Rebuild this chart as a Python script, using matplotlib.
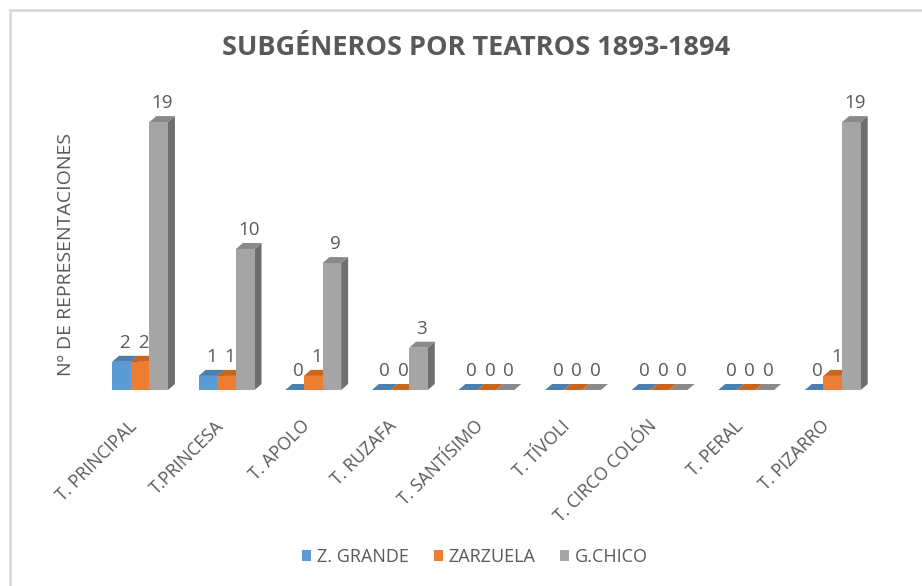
import matplotlib
matplotlib.use("Agg")
import matplotlib.pyplot as plt
from matplotlib.patches import Polygon, Rectangle, Patch
from matplotlib.transforms import ScaledTranslation
import numpy as np

categories = ["T. PRINCIPAL", "T.PRINCESA", "T. APOLO", "T. RUZAFA", "T. SANTÍSIMO",
              "T. TÍVOLI", "T. CIRCO COLÓN", "T. PERAL", "T. PIZARRO"]
z_grande = [2, 1, 0, 0, 0, 0, 0, 0, 0]
zarzuela = [2, 1, 1, 0, 0, 0, 0, 0, 1]
g_chico = [19, 10, 9, 3, 0, 0, 0, 0, 19]
series_names = ["Z. GRANDE", "ZARZUELA", "G.CHICO"]

front = ["#5B9BD5", "#ED7D31", "#A5A5A5"]
top_c = ["#4A7FB0", "#C8651F", "#8A8A8A"]
side_c = ["#3F6D97", "#B05818", "#6E6E6E"]
txt = "#595959"

plt.rcParams['font.family'] = ['Open Sans', 'DejaVu Sans']

W, H = 922, 586
fig = plt.figure(figsize=(W / 100, H / 100), dpi=100)
# chart border
fig.patches.append(Rectangle((10 / W, -0.05), 1.2, (H - 10) / H + 0.05,
                             transform=fig.transFigure, fill=False,
                             edgecolor="#D9D9D9", linewidth=2))

ax_l, ax_r, ax_b, ax_t = 100, 880, 390, 108
ax = fig.add_axes([ax_l / W, (H - ax_b) / H, (ax_r - ax_l) / W, (ax_b - ax_t) / H])
px_per_unit_x = 86.6
xl = -(140 - ax_l) / px_per_unit_x
xr = 8 + (ax_r - 832.8) / px_per_unit_x
ax.set_xlim(xl, xr)
ax.set_ylim(0, 20)
ppy = (ax_b - ax_t) / 20.0

bw = 0.215
dx = 7 / px_per_unit_x
dy = 6 / ppy
x = np.arange(len(categories))
data = [z_grande, zarzuela, g_chico]
offsets = [-bw, 0, bw]

for s, vals in enumerate(data):
    ax.bar(x + offsets[s], vals, width=bw, color=front[s], zorder=3 + s, linewidth=0)
    for i, v in enumerate(vals):
        x0 = x[i] + offsets[s] - bw / 2
        x1 = x0 + bw
        ax.add_patch(Polygon([(x0, v), (x1, v), (x1 + dx, v + dy), (x0 + dx, v + dy)],
                             closed=True, facecolor=top_c[s], edgecolor="none",
                             zorder=3 + s))
        ax.add_patch(Polygon([(x1, 0), (x1 + dx, dy), (x1 + dx, v + dy), (x1, v)],
                             closed=True, facecolor=side_c[s], edgecolor="none",
                             zorder=2.9 + s))
        ax.annotate(str(v), (x0 + bw / 2 + dx / 2, v + dy), xytext=(0, 3),
                    textcoords="offset points", ha="center", va="bottom",
                    fontsize=13.5, color=txt, zorder=10)

for sp in ax.spines.values():
    sp.set_visible(False)
ax.set_yticks([])
ax.set_xticks(x)
ax.set_xticklabels(categories, rotation=45, ha="right", va="top",
                   rotation_mode="anchor", fontsize=12.7, color=txt)
ax.tick_params(axis="x", length=0, pad=10)
shift = ScaledTranslation(-12 / 100, -13 / 100, fig.dpi_scale_trans)
for lbl in ax.get_xticklabels():
    lbl.set_transform(lbl.get_transform() + shift)
ax.set_ylabel("Nº DE REPRESENTACIONES", fontsize=14, color=txt)
ax.yaxis.set_label_coords((75 - ax_l) / (ax_r - ax_l), (ax_b - 255) / (ax_b - ax_t))

fig.text(476 / W, 1 - 48 / H, "SUBGÉNEROS POR TEATROS 1893-1894", ha="center",
         va="center", fontsize=19.5, fontweight="bold", color=txt)

handles = [Patch(facecolor=front[k], edgecolor="none") for k in range(3)]
fig.legend(handles, series_names, loc="center", bbox_to_anchor=(475 / W, 1 - 557 / H),
           ncol=3, frameon=False, fontsize=13, labelcolor=txt,
           handlelength=0.5, handleheight=0.5, handletextpad=0.3, columnspacing=1.4)

fig.savefig("out.png", dpi=100)
